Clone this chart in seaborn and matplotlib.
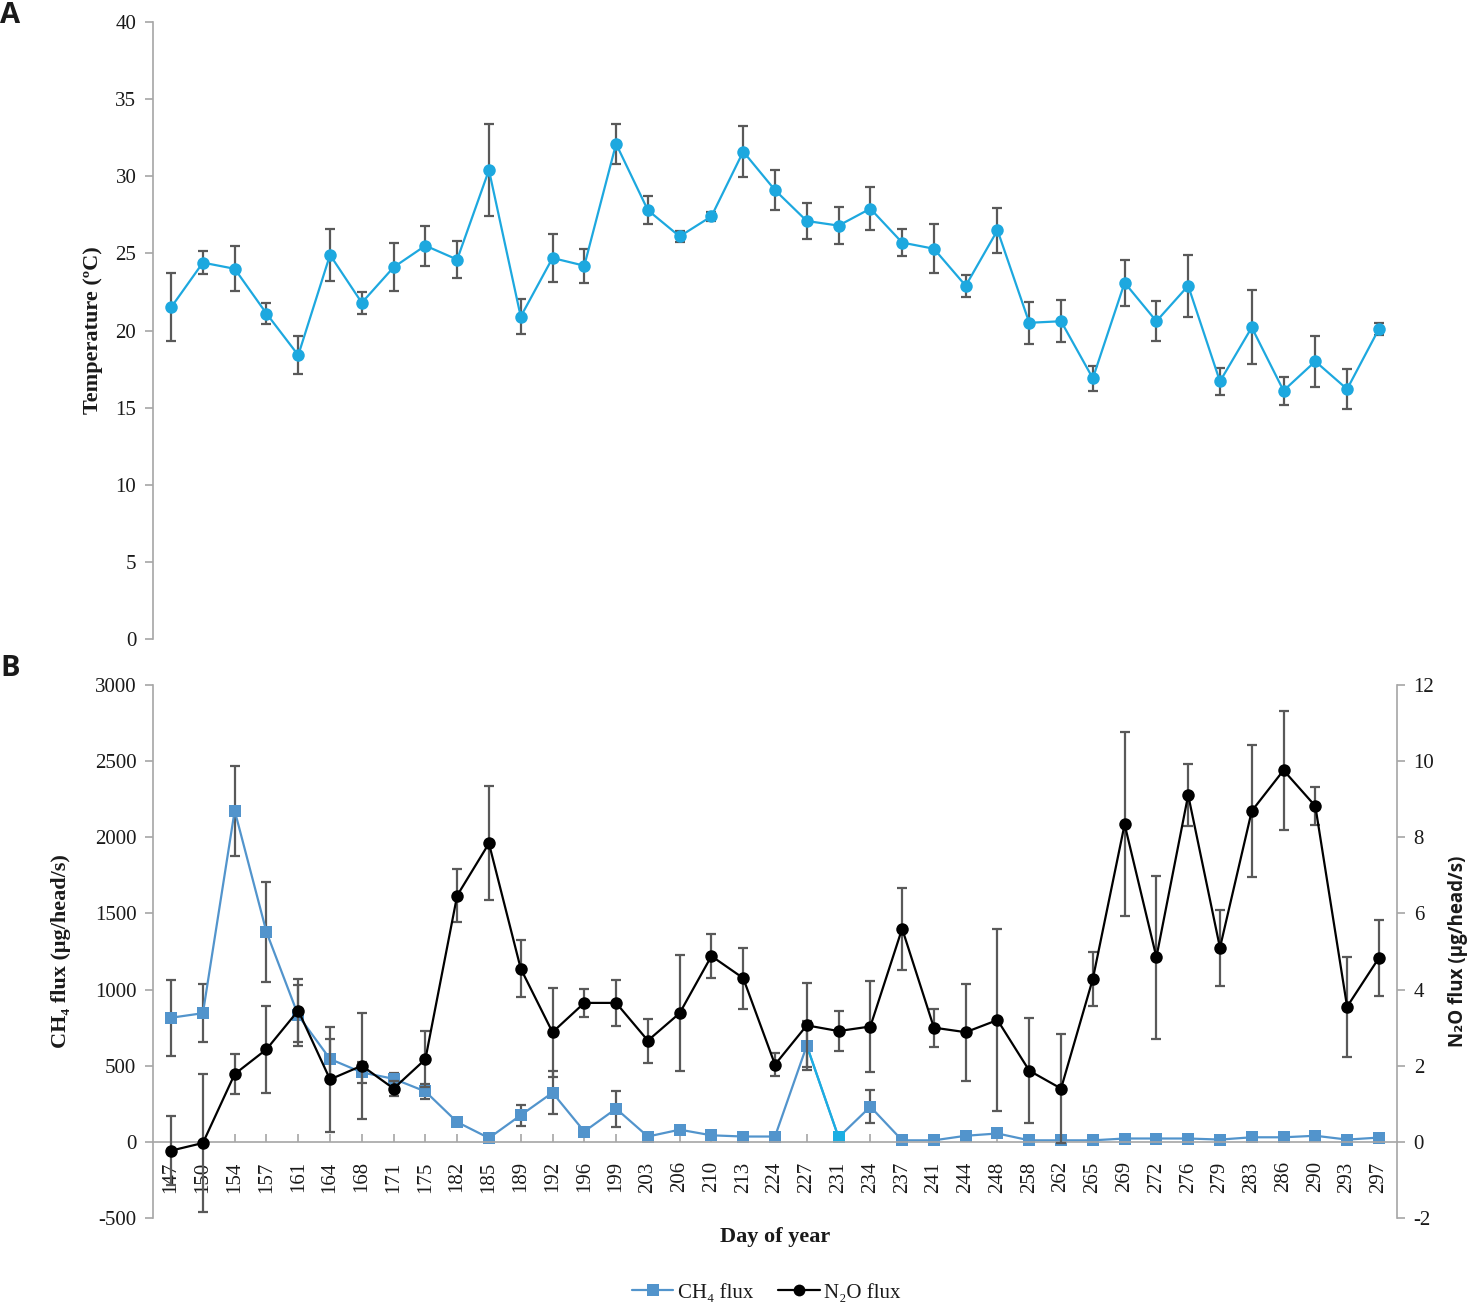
import numpy as np
import pandas as pd
import matplotlib
matplotlib.use("Agg")
import matplotlib.pyplot as plt
from matplotlib.lines import Line2D
import seaborn as sns

# ---------------- data ----------------
days = [147, 150, 154, 157, 161, 164, 168, 171, 175, 182, 185, 189, 192, 196, 199,
        203, 206, 210, 213, 224, 227, 231, 234, 237, 241, 244, 248, 258, 262, 265,
        269, 272, 276, 279, 283, 286, 290, 293, 297]

temp = [21.5, 24.4, 24.0, 21.1, 18.4, 24.9, 21.8, 24.1, 25.5, 24.6, 30.4, 20.9, 24.7,
        24.2, 32.1, 27.8, 26.1, 27.4, 31.6, 29.1, 27.1, 26.8, 27.9, 25.7, 25.3, 22.9,
        26.5, 20.5, 20.6, 16.9, 23.1, 20.6, 22.9, 16.7, 20.2, 16.1, 18.0, 16.2, 20.1]
temp_err = [2.2, 0.75, 1.45, 0.7, 1.25, 1.7, 0.7, 1.55, 1.3, 1.2, 3.0, 1.15, 1.55,
            1.1, 1.3, 0.9, 0.35, 0.3, 1.65, 1.3, 1.15, 1.2, 1.4, 0.85, 1.6, 0.7,
            1.45, 1.35, 1.35, 0.8, 1.5, 1.3, 2.0, 0.9, 2.4, 0.9, 1.65, 1.3, 0.4]

ch4 = [815, 845, 2175, 1378, 830, 544, 456, 414, 331, 130, 25, 175, 323, 68, 218,
       35, 80, 43, 35, 35, 632, 30, 231, 10, 10, 40, 55, 10, 10, 10,
       22, 22, 22, 15, 30, 30, 40, 15, 28]
ch4_err = [250, 190, 295, 330, 200, 130, 70, 40, 50, 0, 0, 70, 140, 0, 118,
           0, 0, 0, 0, 0, 160, 0, 110, 0, 0, 0, 0, 0, 0, 0,
           0, 0, 0, 0, 0, 0, 0, 0, 0]

n2o = [-0.23, -0.03, 1.78, 2.43, 3.45, 1.64, 2.0, 1.40, 2.17, 6.47, 7.84, 4.55, 2.88,
       3.65, 3.65, 2.66, 3.38, 4.88, 4.30, 2.03, 3.06, 2.91, 3.03, 5.60, 3.0, 2.88,
       3.20, 1.87, 1.40, 4.28, 8.34, 4.85, 9.11, 5.10, 8.69, 9.76, 8.82, 3.55, 4.83]
n2o_err = [0.9, 1.8, 0.53, 1.14, 0.84, 1.37, 1.39, 0.2, 0.73, 0.7, 1.5, 0.75, 1.17,
           0.36, 0.61, 0.58, 1.53, 0.58, 0.8, 0.3, 1.1, 0.52, 1.2, 1.08, 0.5, 1.27,
           2.4, 1.38, 1.42, 0.72, 2.42, 2.14, 0.81, 1.0, 1.73, 1.57, 0.51, 1.31, 1.0]

df = pd.DataFrame({"idx": np.arange(len(days)), "day": days, "temp": temp,
                   "temp_err": temp_err, "ch4": ch4, "ch4_err": ch4_err,
                   "n2o": n2o, "n2o_err": n2o_err})

# ---------------- style ----------------
sns.set_theme(style="white")
plt.rcParams["font.family"] = ["Liberation Serif", "DejaVu Serif"]
plt.rcParams["axes.unicode_minus"] = False

TEMPC = "#1DA8DF"
CH4C = "#5294CC"
CYAN = "#1AAEE3"
ERRC = "#595959"
SPINEC = "#A6A6A6"
TXT = "#1a1a1a"
FS = 15

W, H = 1469, 1303
fig = plt.figure(figsize=(W / 100, H / 100), dpi=100)
axA = fig.add_axes([153 / W, 1 - 639 / H, 1244 / W, 617 / H])
axB = fig.add_axes([153 / W, 1 - 1218 / H, 1244 / W, 533 / H])
ax2 = axB.twinx()

xlim = (-0.57, len(days) - 1 + 0.57)

# ---------------- panel A ----------------
axA.errorbar(df["idx"], df["temp"], yerr=df["temp_err"], fmt="none", ecolor=ERRC,
             elinewidth=1.6, capsize=3.6, capthick=1.6, zorder=1.5)
sns.lineplot(data=df, x="idx", y="temp", ax=axA, color=TEMPC, linewidth=1.6,
             marker="o", markersize=9, markeredgewidth=0, zorder=2)
axA.set_xlim(*xlim)
axA.set_ylim(0, 40)
axA.set_yticks(np.arange(0, 41, 5))
axA.set_xticks([])
for s in ["top", "right", "bottom"]:
    axA.spines[s].set_visible(False)
axA.spines["left"].set_color(SPINEC)
axA.spines["left"].set_linewidth(1.2)
axA.tick_params(axis="y", direction="out", length=6, width=1.2, color=SPINEC,
                labelsize=FS, labelcolor=TXT, pad=6, left=True)
axA.set_xlabel("")
axA.set_ylabel("Temperature (ºC)", fontsize=16, fontweight="bold", color=TXT)
axA.yaxis.set_label_coords(-0.040, 0.5)

# ---------------- panel B ----------------
axB.errorbar(df["idx"], df["ch4"], yerr=df["ch4_err"], fmt="none", ecolor=ERRC,
             elinewidth=1.6, capsize=3.6, capthick=1.6, zorder=1.5)
sns.lineplot(data=df, x="idx", y="ch4", ax=axB, color=CH4C, linewidth=1.6, zorder=2)
seg = df.iloc[20:22]
sns.lineplot(data=seg, x="idx", y="ch4", ax=axB, color=CYAN, linewidth=1.6, zorder=2.1)
sns.scatterplot(data=df, x="idx", y="ch4", ax=axB, color=CH4C, marker="s", s=78,
                linewidth=0, zorder=2.2)
sns.scatterplot(data=df.iloc[[21]], x="idx", y="ch4", ax=axB, color=CYAN, marker="s",
                s=78, linewidth=0, zorder=2.3)

ax2.errorbar(df["idx"], df["n2o"], yerr=df["n2o_err"], fmt="none", ecolor=ERRC,
             elinewidth=1.6, capsize=3.6, capthick=1.6, zorder=1.5)
sns.lineplot(data=df, x="idx", y="n2o", ax=ax2, color="black", linewidth=1.6,
             marker="o", markersize=9, markeredgewidth=0, zorder=2)

axB.set_xlim(*xlim)
ax2.set_xlim(*xlim)
axB.set_ylim(-500, 3000)
ax2.set_ylim(-2, 12)
axB.set_yticks(np.arange(-500, 3001, 500))
ax2.set_yticks(np.arange(-2, 13, 2))
axB.set_xticks(df["idx"])
axB.set_xticklabels([str(d) for d in days])

for s in ["top", "right"]:
    axB.spines[s].set_visible(False)
axB.spines["left"].set_color(SPINEC)
axB.spines["left"].set_linewidth(1.2)
axB.spines["bottom"].set_position(("data", 0))
axB.spines["bottom"].set_color(SPINEC)
axB.spines["bottom"].set_linewidth(1.2)
for s in ["top", "left", "bottom"]:
    ax2.spines[s].set_visible(False)
ax2.spines["right"].set_color(SPINEC)
ax2.spines["right"].set_linewidth(1.2)

axB.tick_params(axis="y", direction="out", length=6, width=1.2, color=SPINEC,
                labelsize=FS, labelcolor=TXT, pad=6, left=True)
axB.tick_params(axis="x", direction="in", length=6, width=1.2, color=SPINEC,
                labelsize=FS, labelcolor=TXT, pad=14, bottom=True, labelrotation=90)
ax2.tick_params(axis="y", direction="out", length=6, width=1.2, color=SPINEC,
                labelsize=FS, labelcolor=TXT, pad=6, right=True)

axB.set_ylabel("CH₄ flux (μg/head/s)", fontsize=16, fontweight="bold", color=TXT)
axB.yaxis.set_label_coords(-0.066, 0.5)
ax2.set_ylabel("N₂O flux (μg/head/s)", fontsize=13.5, fontweight="bold", color=TXT,
               family=["Open Sans", "DejaVu Sans"])
ax2.yaxis.set_label_coords(1.041, 0.5)
axB.set_xlabel("Day of year", fontsize=16, fontweight="bold", color=TXT)
axB.xaxis.set_label_coords(0.5, -0.016)

for a in (axB, ax2):
    if a.get_legend() is not None:
        a.get_legend().remove()

# ---------------- panel letters ----------------
fig.text(0.0, 1 - 1 / H, "A", fontsize=21, fontweight="bold", va="top", ha="left",
         family=["Open Sans", "DejaVu Sans"], color=TXT)
fig.text(0.0, 1 - 654 / H, "B", fontsize=21, fontweight="bold", va="top", ha="left",
         family=["Open Sans", "DejaVu Sans"], color=TXT)

# ---------------- legend ----------------
handles = [Line2D([], [], color=CH4C, marker="s", markersize=8.5, markeredgewidth=0, lw=1.6),
           Line2D([], [], color="black", marker="o", markersize=8.5, markeredgewidth=0, lw=1.6)]
fig.legend(handles, ["CH₄ flux", "N₂O flux"], loc="center",
           bbox_to_anchor=(766 / W, 1 - 1293 / H), ncol=2, frameon=False,
           fontsize=FS, handlelength=2.0, handletextpad=0.2, columnspacing=1.2,
           labelcolor=TXT)

fig.savefig("out.png", dpi=100)
